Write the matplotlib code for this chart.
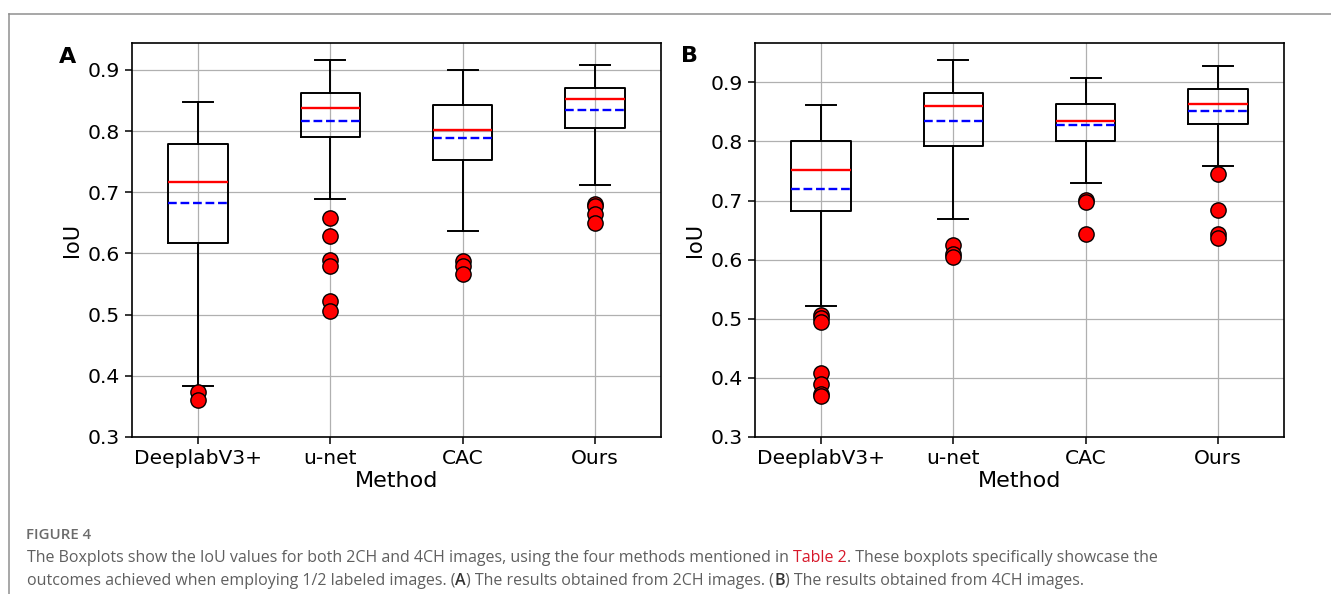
import matplotlib
matplotlib.use("Agg")
import matplotlib.pyplot as plt
from matplotlib.lines import Line2D

W, H = 1331, 594

methods = ["DeeplabV3+", "u-net", "CAC", "Ours"]

# ── (A) 2CH ─────────────────────────────────────────────
a_med = [0.717, 0.838, 0.801, 0.853]
a_mean = [0.683, 0.817, 0.788, 0.835]
a_q1 = [0.617, 0.791, 0.752, 0.805]
a_q3 = [0.779, 0.862, 0.843, 0.871]
a_lo = [0.384, 0.689, 0.637, 0.712]
a_hi = [0.848, 0.916, 0.900, 0.908]
a_fliers = [[0.373, 0.360],
            [0.658, 0.628, 0.590, 0.580, 0.523, 0.506],
            [0.588, 0.580, 0.566],
            [0.681, 0.677, 0.664, 0.650]]

# ── (B) 4CH ─────────────────────────────────────────────
b_med = [0.751, 0.859, 0.835, 0.864]
b_mean = [0.719, 0.835, 0.827, 0.851]
b_q1 = [0.682, 0.792, 0.800, 0.830]
b_q3 = [0.801, 0.881, 0.863, 0.888]
b_lo = [0.521, 0.669, 0.730, 0.759]
b_hi = [0.862, 0.938, 0.908, 0.928]
b_fliers = [[0.506, 0.502, 0.495, 0.409, 0.390, 0.373, 0.370],
            [0.624, 0.609, 0.604],
            [0.701, 0.697, 0.643],
            [0.745, 0.684, 0.644, 0.637]]


def make_stats(med, mean, q1, q3, lo, hi, fliers):
    return [dict(label=m, med=md, mean=mn, q1=a, q3=b, whislo=l, whishi=h,
                 fliers=f)
            for m, md, mn, a, b, l, h, f in zip(methods, med, mean, q1, q3,
                                                lo, hi, fliers)]


fig = plt.figure(figsize=(W / 100, H / 100), dpi=100)
fig.patch.set_facecolor("white")


def px(x0, y_top, x1, y_bot):
    return [x0 / W, 1 - y_bot / H, (x1 - x0) / W, (y_bot - y_top) / H]


def panel(rect, stats, letter, lx, ly):
    ax = fig.add_axes(rect)
    ax.set_axisbelow(True)
    ax.grid(True, color="#b0b0b0", lw=0.9)
    ax.bxp(stats, showmeans=True, meanline=True,
           boxprops=dict(color="black", lw=1.4),
           whiskerprops=dict(color="black", lw=1.4),
           capprops=dict(color="black", lw=1.4),
           medianprops=dict(color="red", lw=1.7),
           meanprops=dict(color="blue", lw=1.7, ls="--"),
           flierprops=dict(marker="o", markerfacecolor="red",
                           markeredgecolor="black", markersize=11,
                           markeredgewidth=1.0))
    ax.set_ylim(bottom=0.3)
    ax.set_xlim(0.5, 4.5)
    ax.tick_params(labelsize=14.6, length=5, width=1.1)
    for s in ax.spines.values():
        s.set_linewidth(1.2)
    ax.set_xlabel("Method", fontsize=16, labelpad=2)
    ax.set_ylabel("IoU", fontsize=15, labelpad=4)
    fig.text(lx / W, 1 - ly / H, letter, fontsize=16, fontweight="bold",
             ha="left", va="baseline")
    return ax


panel(px(132, 43, 661, 437),
      make_stats(a_med, a_mean, a_q1, a_q3, a_lo, a_hi, a_fliers),
      "A", 59, 63)
panel(px(755, 43, 1284, 437),
      make_stats(b_med, b_mean, b_q1, b_q3, b_lo, b_hi, b_fliers),
      "B", 681, 62)

# frame round the figure
fig.add_artist(Line2D([9 / W, 1], [1 - 14 / H] * 2, color="#8f8f8f", lw=1.1))
fig.add_artist(Line2D([9 / W] * 2, [0, 1 - 14 / H], color="#8f8f8f", lw=1.1))

# ── caption ─────────────────────────────────────────────
CAP = "#5f5f5f"
cap_font = dict(family="Open Sans", fontsize=11.5, va="baseline", ha="left")
r = fig.canvas.get_renderer()


def text_w(s, **kw):
    t1 = fig.text(0, 0, s + "|", **kw)
    t2 = fig.text(0, 0, "|", **kw)
    w = t1.get_window_extent(r).width - t2.get_window_extent(r).width
    t1.remove()
    t2.remove()
    return w


def caption_line(x, y, parts):
    for txt, col, wt in parts:
        kw = dict(cap_font, color=col, fontweight=wt)
        fig.text(x / W, 1 - y / H, txt, **kw)
        x += text_w(txt, **kw)


fig.text(26 / W, 1 - 539 / H, "FIGURE 4", family="Open Sans", fontsize=10.8,
         fontweight="semibold", color="#6b6b6b", va="baseline", ha="left")

caption_line(27, 562, [
    ("The Boxplots show the IoU values for both 2CH and 4CH images, using the "
     "four methods mentioned in ", CAP, "normal"),
    ("Table 2", "#d7182a", "normal"),
    (". These boxplots specifically showcase the", CAP, "normal"),
])
caption_line(27, 585, [
    ("outcomes achieved when employing 1/2 labeled images. (", CAP, "normal"),
    ("A", "#333333", "semibold"),
    (") The results obtained from 2CH images. (", CAP, "normal"),
    ("B", "#333333", "semibold"),
    (") The results obtained from 4CH images.", CAP, "normal"),
])

fig.savefig("out.png", dpi=100, facecolor="white")
